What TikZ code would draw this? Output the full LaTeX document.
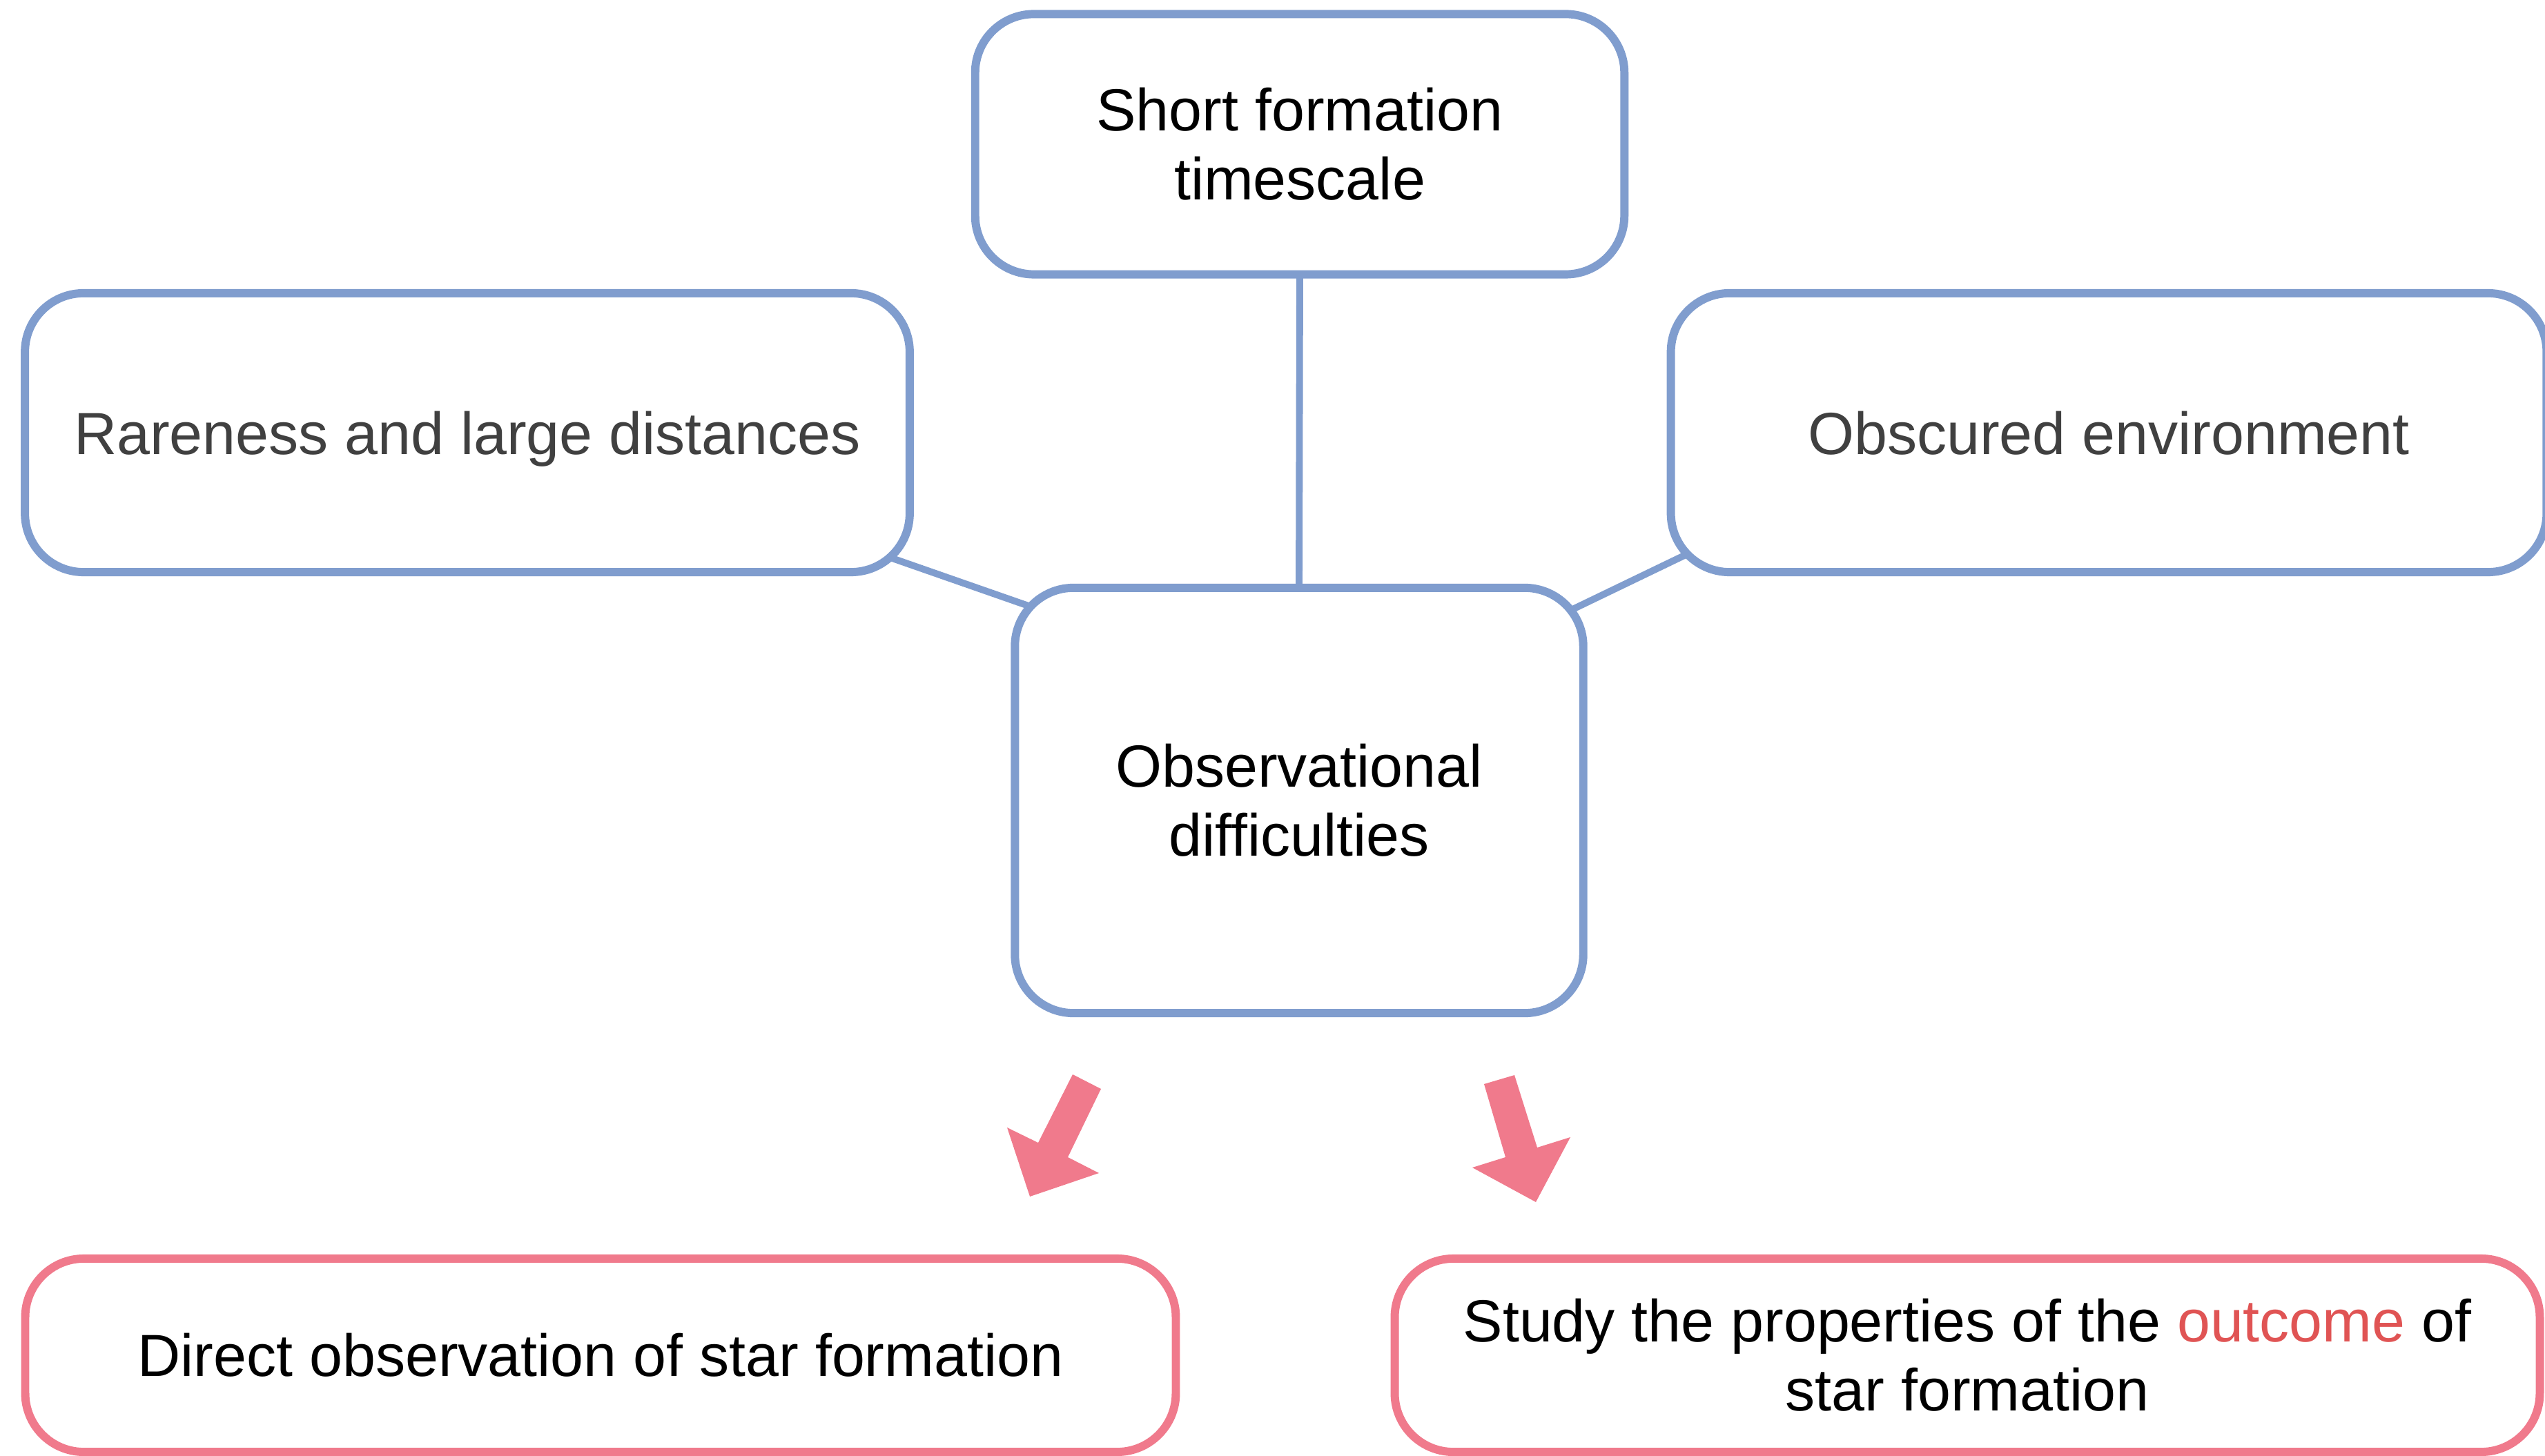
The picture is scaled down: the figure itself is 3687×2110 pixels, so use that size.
\documentclass[tikz,border=0pt]{standalone}
\usepackage{fontspec}
\setmainfont{Liberation Sans}
\usetikzlibrary{calc}
\definecolor{boxblue}{RGB}{128,157,206}
\definecolor{boxpink}{RGB}{240,122,140}
\definecolor{hired}{RGB}{224,84,84}
\definecolor{darktext}{RGB}{64,64,64}
\pgfdeclarelayer{paper}
\pgfdeclarelayer{background}
\pgfsetlayers{paper,background,main}
\begin{document}
\begin{tikzpicture}[x=0.01cm,y=-0.01cm,
  box/.style={draw=boxblue, line width=3.4pt, rounded corners=0.85cm, fill=white,
    align=center, inner sep=0pt, outer sep=0pt, font=\fontsize{24.5}{28.5}\selectfont},
  sidebox/.style={box, text=darktext, text height=18pt, text depth=0pt},
  pinkbox/.style={box, draw=boxpink},
  conn/.style={draw=boxblue, line width=2.8pt},
  blockarrow/.style={fill=boxpink, draw=none}]
\clip (0,0) rectangle (3687,2110);
\begin{pgfonlayer}{paper}
\fill[white] (0,0) rectangle (3687,2110);
\end{pgfonlayer}
\node[box, minimum width=9.40cm, minimum height=3.77cm] (top) at (1883,209) {Short formation\\timescale};
\node[sidebox, minimum width=12.81cm, minimum height=4.04cm] (left) at (677,627) {Rareness and large distances};
\node[sidebox, minimum width=12.68cm, minimum height=4.04cm] (right) at (3055,627) {Obscured environment};
\node[box, minimum width=8.23cm, minimum height=6.16cm] (mid) at (1882,1160) {Observational\\difficulties};
\node[pinkbox, minimum width=16.66cm, minimum height=2.80cm] (bl) at (870,1964) {Direct observation of star formation};
\node[pinkbox, minimum width=16.58cm, minimum height=2.80cm] (br) at (2850,1964) {Study the properties of the \textcolor{hired}{outcome} of\\star formation};
\begin{pgfonlayer}{background}
\draw[conn] (top.south) -- (mid.north);
\draw[conn] ($(left.south east)+(-48,-28)$) -- ($(mid.north west)+(45,35)$);
\draw[conn] ($(mid.north east)+(-40,43)$) -- ($(right.south west)+(42,-35)$);
\end{pgfonlayer}
\fill[blockarrow] (1554,1557) -- (1595,1578) -- (1547,1677) -- (1592,1700) -- (1492,1734) -- (1459,1634) -- (1504,1656) -- cycle;
\fill[blockarrow] (2150,1571) -- (2194,1558) -- (2227,1663) -- (2275,1648) -- (2225,1742) -- (2133,1692) -- (2181,1677) -- cycle;
\end{tikzpicture}
\end{document}
